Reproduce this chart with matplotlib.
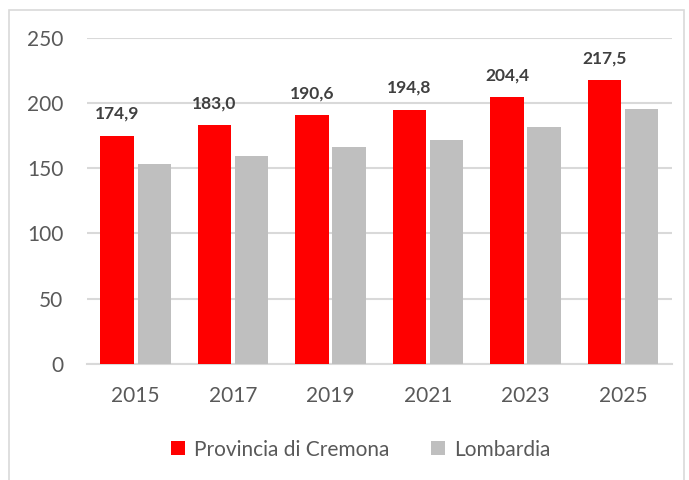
import matplotlib.pyplot as plt
import numpy as np
from matplotlib.patches import Rectangle

# data
years = ["2015", "2017", "2019", "2021", "2023", "2025"]
cremona = [174.9, 183.0, 190.6, 194.8, 204.4, 217.5]
lombardia = [153.3, 159.7, 166.1, 172.0, 181.8, 195.1]

plt.rcParams["font.family"] = ["Lato", "DejaVu Sans"]

fig = plt.figure(figsize=(6.89, 4.8), dpi=100)
ax = fig.add_axes([0.126, 0.242, 0.849, 0.679])

x = np.arange(len(years))
w = 0.34
bars1 = ax.bar(x - 0.19, cremona, w, color="#ff0000", label="Provincia di Cremona", zorder=3)
bars2 = ax.bar(x + 0.19, lombardia, w, color="#bfbfbf", label="Lombardia", zorder=3)

# labels on the red bars, italian decimal comma
labels = [("%.1f" % v).replace(".", ",") for v in cremona]
ax.bar_label(bars1, labels=labels, padding=10, fontsize=12.5, fontweight="bold", color="#404040")

ax.set_xlim(-0.5, len(years) - 0.5)
ax.set_ylim(0, 250)
ax.set_yticks([0, 50, 100, 150, 200, 250])
ax.set_xticks(x)
ax.set_xticklabels(years)
ax.tick_params(axis="both", length=0, labelsize=15, colors="#595959")
ax.tick_params(axis="x", pad=16)
ax.tick_params(axis="y", pad=17)
ax.grid(axis="y", color="#d9d9d9", linewidth=1.5, zorder=0)
for s in ["top", "right", "left"]:
    ax.spines[s].set_visible(False)
ax.spines["bottom"].set_color("#d9d9d9")
ax.spines["bottom"].set_linewidth(1.5)

leg = fig.legend(loc="center", bbox_to_anchor=(0.524, 0.063), ncol=2, frameon=False,
                 fontsize=15, handlelength=0.65, handleheight=0.65, handletextpad=0.45,
                 columnspacing=2.0, labelcolor="#595959")

# outer chart border
fig.patches.append(Rectangle((0.013, -0.01), 0.98, 0.99, transform=fig.transFigure,
                             fill=False, edgecolor="#d9d9d9", linewidth=1.2))

plt.savefig("out.png", dpi=100)
